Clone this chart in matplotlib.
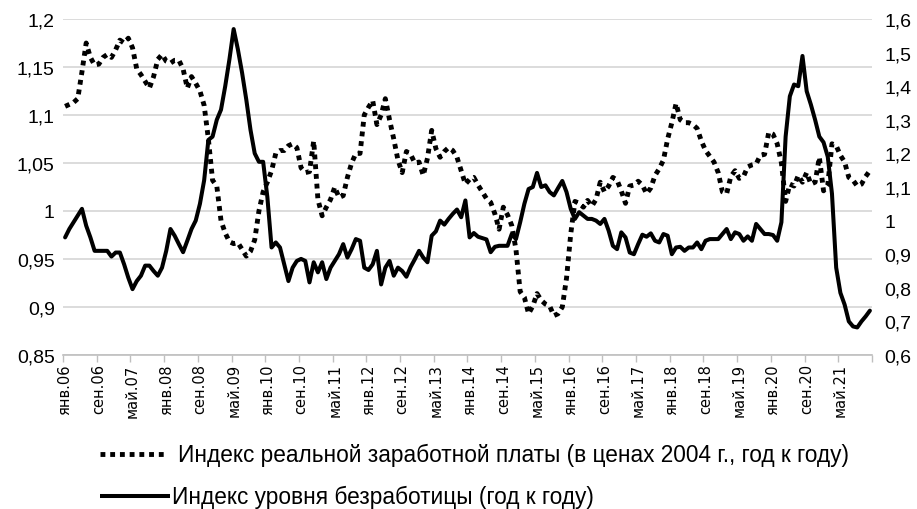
import matplotlib
matplotlib.use("Agg")
import matplotlib.pyplot as plt
from matplotlib.lines import Line2D
import numpy as np

# Monthly data: Jan 2006 .. Dec 2021
years = list(range(2006, 2022))
month_abbr = ["янв", "фев", "мар", "апр", "май", "июн", "июл", "авг", "сен", "окт", "ноя", "дек"]
categories = [f"{m}.{str(y)[2:]}" for y in years for m in month_abbr]

# Индекс реальной заработной платы (left axis)
real_wage = [
    1.109, 1.111, 1.113, 1.117, 1.145, 1.175, 1.160, 1.152, 1.153, 1.160, 1.163, 1.160,
    1.168, 1.178, 1.175, 1.180, 1.170, 1.148, 1.142, 1.135, 1.128, 1.140, 1.158, 1.163,
    1.156, 1.154, 1.157, 1.157, 1.148, 1.128, 1.140, 1.133, 1.125, 1.110, 1.075, 1.032,
    1.026, 0.990, 0.977, 0.968, 0.966, 0.967, 0.960, 0.953, 0.958, 0.970, 1.000, 1.020,
    1.030, 1.042, 1.060, 1.063, 1.063, 1.068, 1.070, 1.066, 1.045, 1.040, 1.041, 1.073,
    1.012, 0.995, 1.004, 1.012, 1.025, 1.014, 1.016, 1.035, 1.050, 1.060, 1.060, 1.100,
    1.108, 1.115, 1.090, 1.100, 1.117, 1.095, 1.075, 1.053, 1.040, 1.062, 1.059, 1.050,
    1.051, 1.037, 1.055, 1.084, 1.065, 1.056, 1.062, 1.066, 1.063, 1.056, 1.042, 1.028,
    1.033, 1.035, 1.027, 1.020, 1.013, 1.009, 0.997, 0.981, 1.004, 0.996, 0.985, 0.960,
    0.916, 0.910, 0.893, 0.901, 0.914, 0.907, 0.903, 0.901, 0.891, 0.893, 0.900, 0.930,
    0.976, 1.010, 1.008, 1.004, 1.011, 1.005, 1.012, 1.030, 1.020, 1.026, 1.035, 1.032,
    1.021, 1.008, 1.026, 1.027, 1.031, 1.027, 1.018, 1.024, 1.037, 1.044, 1.053, 1.075,
    1.092, 1.112, 1.095, 1.092, 1.092, 1.090, 1.086, 1.073, 1.063, 1.057, 1.051, 1.040,
    1.020, 1.018, 1.036, 1.042, 1.034, 1.036, 1.046, 1.048, 1.049, 1.058, 1.059, 1.082,
    1.080, 1.070, 1.050, 1.010, 1.028, 1.026, 1.037, 1.030, 1.040, 1.028, 1.030, 1.056,
    1.021, 1.027, 1.070, 1.068, 1.058, 1.051, 1.035, 1.032, 1.026, 1.028, 1.036, 1.042,
]

# Индекс уровня безработицы (right axis)
unemployment = [
    0.950, 0.975, 0.995, 1.015, 1.035, 0.985, 0.950, 0.910, 0.910, 0.910, 0.910, 0.893,
    0.905, 0.905, 0.870, 0.830, 0.796, 0.820, 0.836, 0.866, 0.866, 0.850, 0.836, 0.860,
    0.910, 0.975, 0.955, 0.930, 0.906, 0.940, 0.975, 1.000, 1.050, 1.120, 1.240, 1.250,
    1.300, 1.330, 1.400, 1.480, 1.570, 1.510, 1.440, 1.360, 1.270, 1.200, 1.175, 1.175,
    1.070, 0.920, 0.935, 0.920, 0.870, 0.820, 0.860, 0.880, 0.886, 0.880, 0.816, 0.876,
    0.846, 0.876, 0.826, 0.860, 0.880, 0.900, 0.930, 0.890, 0.915, 0.945, 0.940, 0.860,
    0.853, 0.870, 0.910, 0.810, 0.860, 0.880, 0.836, 0.860, 0.850, 0.833, 0.862, 0.885,
    0.910, 0.890, 0.876, 0.955, 0.968, 1.000, 0.988, 1.005, 1.020, 1.033, 1.010, 1.060,
    0.950, 0.963, 0.952, 0.948, 0.944, 0.906, 0.922, 0.925, 0.925, 0.925, 0.960, 0.945,
    0.995, 1.050, 1.094, 1.100, 1.142, 1.100, 1.105, 1.085, 1.075, 1.097, 1.118, 1.085,
    1.035, 1.005, 1.025, 1.015, 1.005, 1.005, 1.000, 0.990, 1.005, 0.970, 0.925, 0.915,
    0.965, 0.950, 0.905, 0.900, 0.930, 0.958, 0.952, 0.962, 0.940, 0.935, 0.960, 0.955,
    0.900, 0.920, 0.922, 0.910, 0.920, 0.920, 0.935, 0.915, 0.940, 0.945, 0.945, 0.945,
    0.960, 0.975, 0.945, 0.965, 0.960, 0.940, 0.953, 0.940, 0.990, 0.975, 0.960, 0.960,
    0.957, 0.940, 0.995, 1.250, 1.370, 1.405, 1.400, 1.490, 1.385, 1.345, 1.300, 1.250,
    1.233, 1.190, 1.080, 0.860, 0.785, 0.750, 0.700, 0.685, 0.682, 0.700, 0.715, 0.732,
]

left_ticks = [0.85, 0.9, 0.95, 1.0, 1.05, 1.1, 1.15, 1.2]
right_ticks = [0.6, 0.7, 0.8, 0.9, 1.0, 1.1, 1.2, 1.3, 1.4, 1.5, 1.6]
label_wage = "Индекс реальной заработной платы (в ценах 2004 г., год к году)"
label_unemp = "Индекс уровня безработицы (год к году)"

def fmt(v):
    s = f"{v:.2f}".rstrip("0").rstrip(".")
    return s.replace(".", ",")

W, H = 917, 510
fig = plt.figure(figsize=(W / 100, H / 100), dpi=100)
L, R, T, B = 63, 872, 20, 356
ax = fig.add_axes([L / W, 1 - B / H, (R - L) / W, (B - T) / H])
ax2 = ax.twinx()

x = np.arange(len(categories))
ax.plot(x, real_wage, color="black", lw=3.5, linestyle=(0, (1, 1)),
        dash_capstyle="butt", solid_joinstyle="miter", zorder=3)
ax2.plot(x, unemployment, color="black", lw=2.9, solid_joinstyle="round",
         solid_capstyle="round", zorder=3)

ax.set_xlim(-0.5, len(categories) - 0.5)
ax.set_ylim(0.85, 1.2)
ax2.set_ylim(0.6, 1.6)
ax.set_yticks(left_ticks)
ax.set_yticklabels([fmt(v) for v in left_ticks], fontsize=14, family="Liberation Sans")
ax2.set_yticks(right_ticks)
ax2.set_yticklabels([fmt(v) for v in right_ticks], fontsize=14, family="Liberation Sans")
ax.tick_params(axis="y", length=0, pad=6)
ax2.tick_params(axis="y", length=0, pad=9)
ax.grid(axis="y", color="#d9d9d9", lw=1.3)
ax.set_axisbelow(True)

# category ticks every 8 months
major = np.arange(-0.5, len(categories), 8)
ax.set_xticks(major)
ax.set_xticklabels([""] * len(major))
ax.tick_params(axis="x", which="major", length=5, color="#bfbfbf", width=1)
minor = np.arange(0, len(categories), 8)
ax.set_xticks(minor, minor=True)
ax.set_xticklabels([categories[i] for i in minor], minor=True, rotation=90,
                   fontsize=10.5, family="DejaVu Sans")
ax.tick_params(axis="x", which="minor", length=0, pad=6)

for a in (ax, ax2):
    for s in ("top", "left", "right"):
        a.spines[s].set_visible(False)
ax2.spines["bottom"].set_visible(False)
ax.spines["bottom"].set_color("#bfbfbf")
ax.spines["bottom"].set_linewidth(1.2)

# legend drawn below the chart
fig.add_artist(Line2D([100 / W, 166 / W], [1 - 455 / H] * 2, color="black", lw=3.5,
                      linestyle=(0, (1, 1)), dash_capstyle="butt", transform=fig.transFigure))
fig.text(178 / W, 1 - 455 / H, label_wage, fontsize=16.3, family="Liberation Sans",
         va="center", ha="left")
fig.add_artist(Line2D([100 / W, 170 / W], [1 - 497 / H] * 2, color="black", lw=2.9,
                      solid_capstyle="butt", transform=fig.transFigure))
fig.text(172 / W, 1 - 497 / H, label_unemp, fontsize=16.3, family="Liberation Sans",
         va="center", ha="left")

fig.savefig("out.png", dpi=100)
